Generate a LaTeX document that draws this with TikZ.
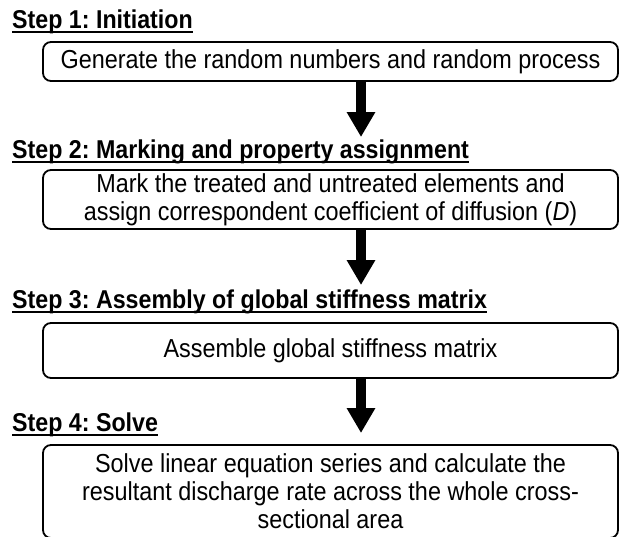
\documentclass[tikz,border=0pt]{standalone}
\usepackage{fontspec}
\setmainfont{Liberation Sans}[FakeStretch=0.9]
\usetikzlibrary{arrows.meta}

\tikzset{
  heading/.style={anchor=base west, inner sep=0pt, font=\frenchspacing\fontsize{25.8}{28}\selectfont\bfseries},
  stepbox/.style={draw, line width=1.8pt, rounded corners=8pt, minimum width=575pt,
    align=center, inner sep=0pt, font=\frenchspacing\fontsize{26}{28}\selectfont},
  flow/.style={line width=10pt, -{Triangle[length=25pt, width=27pt]}},
  rule/.style={line width=1.8pt}
}

\begin{document}
\begin{tikzpicture}[x=1pt, y=-1pt]
\clip (0,0) rectangle (620,536);

% Step headings
\node[heading] (h1) at (12,28)  {Step 1: Initiation};
\node[heading] (h2) at (12,158) {Step 2: Marking and property assignment};
\node[heading] (h3) at (12,308) {Step 3: Assembly of global stiffness matrix};
\node[heading] (h4) at (12,431) {Step 4: Solve};
\foreach \h in {h1,h2,h3,h4}
  \draw[rule] ([yshift=-4pt]\h.base west) -- ([yshift=-4pt]\h.base east);

% Step boxes
\node[stepbox, minimum height=39pt] (b1) at (330.5,61.5)
  {Generate the random numbers and random process};
\node[stepbox, minimum height=59pt] (b2) at (330.5,199.5)
  {Mark the treated and untreated elements and\\
   assign correspondent coefficient of diffusion (\textit{D})};
\node[stepbox, minimum height=55pt] (b3) at (330.5,350.5)
  {Assemble global stiffness matrix};
\node[stepbox, minimum height=93pt] (b4) at (330.5,491.5)
  {Solve linear equation series and calculate the\\
   resultant discharge rate across the whole cross-\\
   sectional area};

% Arrow tips
\coordinate (t1) at (361,137);
\coordinate (t2) at (361,285);
\coordinate (t3) at (361,433);

\draw[flow] (b1.south -| t1) -- (t1);
\draw[flow] (b2.south -| t2) -- (t2);
\draw[flow] (b3.south -| t3) -- (t3);
\end{tikzpicture}
\end{document}
